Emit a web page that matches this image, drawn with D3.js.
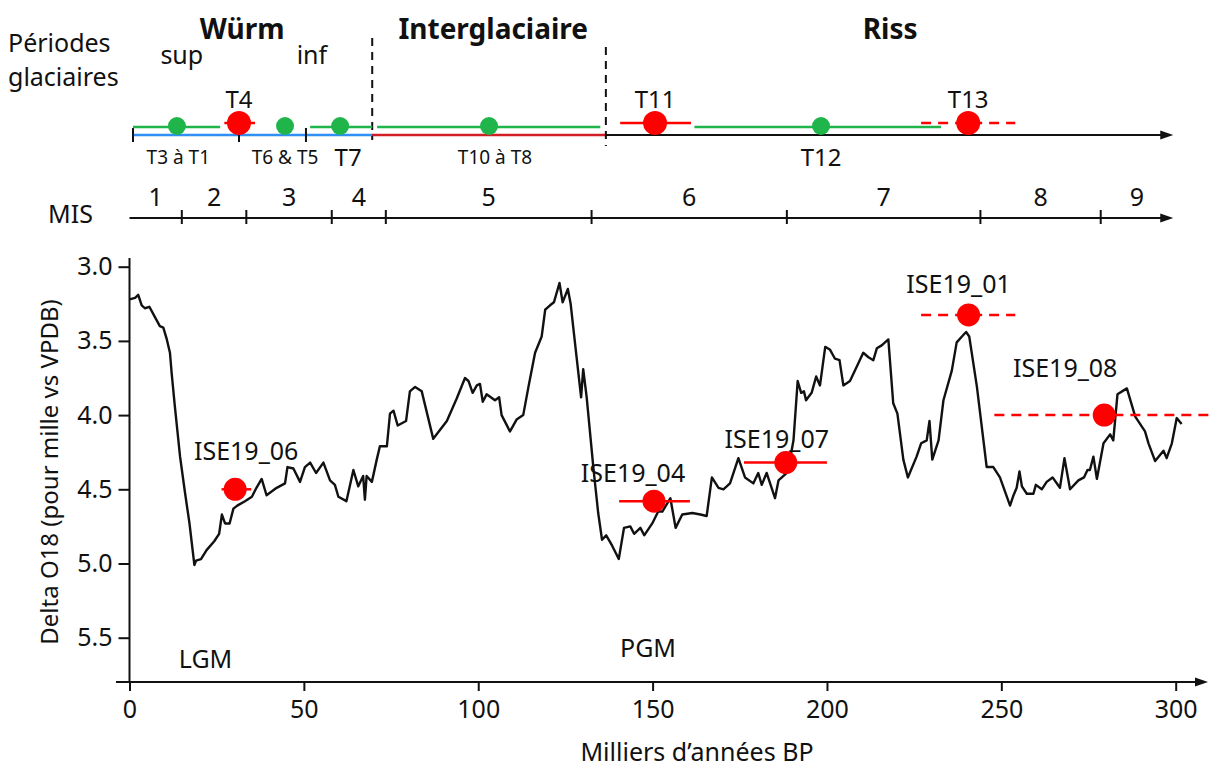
<!DOCTYPE html>
<html>
<head>
<meta charset="utf-8">
<script src="https://cdn.jsdelivr.net/npm/d3@7"></script>
<style>
 body { margin:0; background:#fff; }
 text { font-family:"Noto Sans", sans-serif; fill:#111; }
</style>
</head>
<body>
<div class="chart"></div>
<script>
// benthic delta O18 curve [age ka, value]
var curve = [[0,3.22],[1.6,3.21],[2.5,3.19],[3.5,3.26],[4.4,3.28],[5.7,3.27],[7.3,3.34],[8.7,3.40],[9.7,3.41],[10.7,3.49],
 [11.6,3.58],[12.1,3.72],[13.0,3.94],[14.5,4.28],[15.9,4.52],[17.2,4.73],[18.6,5.01],[19.1,4.98],[20.5,4.97],[22.1,4.91],
 [24.3,4.85],[25.7,4.80],[26.5,4.67],[27.4,4.73],[28.7,4.73],[29.8,4.63],[30.9,4.61],[33.1,4.58],[35.1,4.55],[36.4,4.49],
 [37.9,4.43],[39.3,4.54],[42.2,4.49],[44.6,4.46],[45.3,4.35],[47.0,4.36],[48.9,4.45],[50.3,4.35],[51.8,4.32],[53.5,4.39],
 [55.6,4.32],[57.5,4.44],[58.9,4.47],[59.9,4.55],[62.2,4.58],[64.2,4.37],[65.6,4.48],[67.0,4.41],[67.5,4.57],[68.0,4.41],
 [69.5,4.45],[70.9,4.30],[71.8,4.21],[73.8,4.21],[74.7,3.99],[75.7,3.97],[76.9,4.07],[79.3,4.04],[80.4,3.84],[81.9,3.81],
 [83.8,3.84],[87.1,4.16],[91.0,4.04],[93.8,3.89],[96.2,3.75],[97.2,3.77],[98.4,3.85],[99.6,3.80],[100.5,3.79],[101.3,3.91],
 [102.4,3.86],[104.8,3.90],[106.0,3.88],[106.7,4.00],[109.1,4.11],[111.0,4.03],[112.9,4.00],[114.4,3.81],[116.3,3.58],[118.2,3.47],
 [119.2,3.29],[120.6,3.26],[121.7,3.24],[123.3,3.11],[124.2,3.24],[125.7,3.15],[126.5,3.25],[128.2,3.61],[129.5,3.88],[130.1,3.69],
 [131.1,3.88],[133.0,4.35],[134.4,4.66],[135.5,4.84],[136.7,4.81],[138.4,4.88],[140.3,4.97],[141.8,4.76],[143.6,4.75],[144.7,4.80],
 [146.5,4.76],[147.6,4.81],[149.9,4.73],[151.6,4.65],[152.8,4.65],[155.1,4.56],[156.6,4.76],[158.5,4.67],[161.4,4.66],[163.7,4.67],
 [165.5,4.68],[167.0,4.42],[168.9,4.49],[170.3,4.50],[172.2,4.46],[174.6,4.29],[176.5,4.42],[178.9,4.46],[180.3,4.39],[181.3,4.47],
 [182.7,4.39],[185.1,4.56],[186.1,4.44],[188.5,4.39],[189.4,4.30],[190.4,4.17],[191.6,3.77],[192.6,3.85],[193.4,3.84],[194.0,3.90],
 [195.6,3.85],[196.9,3.74],[198.0,3.80],[199.5,3.54],[200.9,3.56],[202.3,3.62],[203.6,3.63],[204.7,3.80],[206.6,3.77],[209.0,3.65],
 [210.4,3.58],[211.9,3.61],[213.3,3.63],[214.3,3.55],[215.7,3.53],[217.6,3.49],[219.0,3.92],[220.2,3.99],[221.9,4.30],[223.2,4.42],
 [225.7,4.28],[227.0,4.19],[228.6,4.17],[229.4,4.04],[230.2,4.30],[232.0,4.17],[233.4,3.90],[235.8,3.70],[237.2,3.51],[238.7,3.47],
 [239.9,3.44],[240.8,3.47],[243.0,3.81],[245.8,4.35],[247.7,4.35],[249.6,4.42],[252.5,4.61],[253.5,4.54],[254.4,4.49],[255.2,4.38],
 [255.9,4.48],[257.3,4.53],[259.2,4.53],[259.9,4.47],[261.6,4.50],[263.0,4.45],[264.7,4.42],[266.8,4.49],[268.1,4.29],[269.7,4.50],
 [272.1,4.44],[273.7,4.42],[274.7,4.37],[275.4,4.37],[276.4,4.28],[277.4,4.43],[279.3,4.19],[281.2,4.13],[282.1,4.17],[283.3,3.86],
 [286.0,3.82],[288.4,4.01],[291.2,4.11],[292.2,4.19],[294.1,4.31],[296.5,4.24],[297.4,4.29],[298.9,4.19],[300.3,4.02],[301.7,4.06]];

var xTicks = [0,50,100,150,200,250,300];
var yTicks = [3.0,3.5,4.0,4.5,5.0,5.5];

// dated samples
var samples = [
 {name:"ISE19_06", age:30.3, lo:26.4, hi:34.9, d18:4.50, dashed:false},
 {name:"ISE19_04", age:150.4, lo:140.4, hi:160.7, d18:4.58, dashed:false},
 {name:"ISE19_07", age:188.2, lo:176.2, hi:200.0, d18:4.32, dashed:false},
 {name:"ISE19_01", age:240.6, lo:227.0, hi:254.0, d18:3.325, dashed:true},
 {name:"ISE19_08", age:279.5, lo:248.0, hi:310.0, d18:4.00, dashed:true}
];
var sampleLabelOffset = {"ISE19_06":[11,-29],"ISE19_04":[-21,-19],"ISE19_07":[-9,-15],"ISE19_01":[-10,-22],"ISE19_08":[-39,-38]};

// MIS stages
var misBounds = [0,15,33.5,58,73.5,132.5,188.5,244,278.5,299.3];
var misNames = ["1","2","3","4","5","6","7","8","9"];

// glacial periods and terraces
var periods = [{name:"Würm", age:32.3},{name:"Interglaciaire", age:104.3},{name:"Riss", age:218.1}];
var subPeriods = [{name:"sup", age:15},{name:"inf", age:52.3}];
var periodLimits = [69.6,136.6];
var timelineStart = 1, timelineEnd = 299.3;
var timelineTicks = [1,31.4,50.6];
var blueSpan = [1,69.6], redSpan = [69.6,136.6];
var greenSpans = [[1,26],[51.8,69.6],[71,135],[162,232.7]];
var greenDots = [13.6,44.6,60.4,103.1,198.3];
var redDates = [
 {name:"T4", age:31.4, lo:27.2, hi:36.0, dashed:false},
 {name:"T11", age:150.7, lo:140.7, hi:161.0, dashed:false},
 {name:"T13", age:240.5, lo:227.0, hi:254.0, dashed:true}
];
var terraceLabels = [
 {name:"T3 à T1", age:14.0, big:false},
 {name:"T6 & T5", age:44.6, big:false},
 {name:"T7", age:62.7, big:true},
 {name:"T10 à T8", age:104.8, big:false},
 {name:"T12", age:198.3, big:true}
];

var RED = "#ff0000", GREEN = "#1fb54a", BLUE = "#2f8ff5", DARKRED = "#d21f26";
var FS = 25;

var svg = d3.select(".chart").append("svg")
  .attr("width",1209)
  .attr("height",769);

var x = d3.scaleLinear().domain([0,300]).range([129.5,1175.7]);
var y = d3.scaleLinear().domain([3,5.5]).range([266.7,637.7]);

function arrowHead(px,py)
{
  svg.append("path")
    .attr("d","M"+px+","+py+"L"+(px-13)+","+(py-4.5)+"L"+(px-13)+","+(py+4.5)+"Z")
    .attr("fill","#111");
}

// ---------- main chart ----------
var xAxis = svg.append("g")
  .attr("transform","translate(0,682)")
  .call(d3.axisBottom(x).tickValues(xTicks).tickSize(9).tickSizeOuter(0).tickPadding(9).tickFormat(d3.format("d")));
xAxis.select(".domain").remove();
xAxis.selectAll("line").attr("stroke","#111").attr("stroke-width",2);
xAxis.selectAll("text").attr("font-size",FS).attr("fill","#111");
svg.append("line").attr("x1",116).attr("x2",1200).attr("y1",682).attr("y2",682)
  .attr("stroke","#111").attr("stroke-width",2);
arrowHead(1208,682);

var yAxis = svg.append("g")
  .attr("transform","translate(129.5,0)")
  .call(d3.axisLeft(y).tickValues(yTicks).tickSize(11).tickSizeOuter(0).tickPadding(6).tickFormat(d3.format(".1f")));
yAxis.select(".domain").remove();
yAxis.selectAll("line").attr("stroke","#111").attr("stroke-width",2);
yAxis.selectAll("text").attr("font-size",FS).attr("fill","#111");
svg.append("line").attr("x1",129.5).attr("x2",129.5).attr("y1",258).attr("y2",682)
  .attr("stroke","#111").attr("stroke-width",2);

svg.append("text").attr("x",697).attr("y",761).attr("text-anchor","middle")
  .attr("font-size",FS).text("Milliers d’années BP");
svg.append("text").attr("transform","translate(58,472) rotate(-90)").attr("text-anchor","middle")
  .attr("font-size",24).text("Delta O18 (pour mille vs VPDB)");

var lineFn = d3.line()
  .x(function(d) { return x(d[0]); })
  .y(function(d) { return y(d[1]); });
svg.append("path")
  .attr("d",lineFn(curve))
  .attr("fill","none")
  .attr("stroke","#111")
  .attr("stroke-width",2.4)
  .attr("stroke-linejoin","round");

svg.append("text").attr("x",x(21.8)).attr("y",668).attr("text-anchor","middle").attr("font-size",FS).text("LGM");
svg.append("text").attr("x",x(148.7)).attr("y",657).attr("text-anchor","middle").attr("font-size",FS).text("PGM");

samples.forEach(function(s){
  svg.append("line")
    .attr("x1",x(s.lo)).attr("x2",Math.min(x(s.hi),1209))
    .attr("y1",y(s.d18)).attr("y2",y(s.d18))
    .attr("stroke",RED).attr("stroke-width",2.5)
    .attr("stroke-dasharray",s.dashed ? "10,7" : null);
  svg.append("circle").attr("cx",x(s.age)).attr("cy",y(s.d18)).attr("r",11.5).attr("fill",RED);
  var off = sampleLabelOffset[s.name];
  svg.append("text").attr("x",x(s.age)+off[0]).attr("y",y(s.d18)+off[1])
    .attr("text-anchor","middle").attr("font-size",FS).text(s.name);
});

// ---------- MIS axis ----------
var misY = 218;
svg.append("line").attr("x1",x(misBounds[0])).attr("x2",x(timelineEnd)-6).attr("y1",misY).attr("y2",misY)
  .attr("stroke","#111").attr("stroke-width",2);
arrowHead(x(timelineEnd),misY);
svg.selectAll(".misTick").data(misBounds.slice(1,-1)).enter().append("line")
  .attr("x1",function(d){ return x(d); }).attr("x2",function(d){ return x(d); })
  .attr("y1",misY-8).attr("y2",misY+6)
  .attr("stroke","#111").attr("stroke-width",2);
svg.selectAll(".misLab").data(misNames).enter().append("text")
  .attr("x",function(d,i){ return x((misBounds[i]+misBounds[i+1])/2); })
  .attr("y",206).attr("text-anchor","middle").attr("font-size",FS)
  .text(function(d){ return d; });
svg.append("text").attr("x",48).attr("y",223).attr("font-size",FS).text("MIS");

// ---------- glacial periods timeline ----------
var tlY = 135;
svg.append("text").attr("x",8).attr("y",52).attr("font-size",FS).text("Périodes");
svg.append("text").attr("x",8).attr("y",86).attr("font-size",FS).text("glaciaires");

periods.forEach(function(p){
  svg.append("text").attr("x",x(p.age)).attr("y",39).attr("text-anchor","middle")
    .attr("font-size",28).attr("font-weight","bold").text(p.name);
});
subPeriods.forEach(function(p){
  svg.append("text").attr("x",x(p.age)).attr("y",64).attr("text-anchor","middle")
    .attr("font-size",FS).text(p.name);
});

svg.append("line").attr("x1",x(timelineStart)).attr("x2",x(timelineEnd)-6).attr("y1",tlY).attr("y2",tlY)
  .attr("stroke","#111").attr("stroke-width",2);
arrowHead(x(timelineEnd),tlY);
svg.append("line").attr("x1",x(blueSpan[0])).attr("x2",x(blueSpan[1])).attr("y1",tlY).attr("y2",tlY)
  .attr("stroke",BLUE).attr("stroke-width",2.5);
svg.append("line").attr("x1",x(redSpan[0])).attr("x2",x(redSpan[1])).attr("y1",tlY).attr("y2",tlY)
  .attr("stroke",DARKRED).attr("stroke-width",2.5);
svg.selectAll(".tlTick").data(timelineTicks).enter().append("line")
  .attr("x1",function(d){ return x(d); }).attr("x2",function(d){ return x(d); })
  .attr("y1",tlY-7).attr("y2",tlY+7)
  .attr("stroke","#111").attr("stroke-width",2);

svg.selectAll(".limit").data(periodLimits).enter().append("line")
  .attr("x1",function(d){ return x(d); }).attr("x2",function(d){ return x(d); })
  .attr("y1",function(d,i){ return i==0 ? 38 : 47; }).attr("y2",function(d,i){ return i==0 ? 140 : 146; })
  .attr("stroke","#111").attr("stroke-width",2).attr("stroke-dasharray","8,6");

greenSpans.forEach(function(g){
  svg.append("line").attr("x1",x(g[0])).attr("x2",x(g[1])).attr("y1",127).attr("y2",127)
    .attr("stroke",GREEN).attr("stroke-width",2.5);
});
svg.selectAll(".gdot").data(greenDots).enter().append("circle")
  .attr("cx",function(d){ return x(d); }).attr("cy",126).attr("r",9).attr("fill",GREEN);

redDates.forEach(function(r){
  svg.append("line").attr("x1",x(r.lo)).attr("x2",x(r.hi)).attr("y1",123).attr("y2",123)
    .attr("stroke",RED).attr("stroke-width",2.5)
    .attr("stroke-dasharray",r.dashed ? "10,7" : null);
  svg.append("circle").attr("cx",x(r.age)).attr("cy",123).attr("r",12).attr("fill",RED);
  svg.append("text").attr("x",x(r.age)).attr("y",108).attr("text-anchor","middle")
    .attr("font-size",24).text(r.name);
});

terraceLabels.forEach(function(t){
  svg.append("text").attr("x",x(t.age)).attr("y",t.big ? 166 : 164).attr("text-anchor","middle")
    .attr("font-size",t.big ? 24 : 19).text(t.name);
});
</script>
</body>
</html>
